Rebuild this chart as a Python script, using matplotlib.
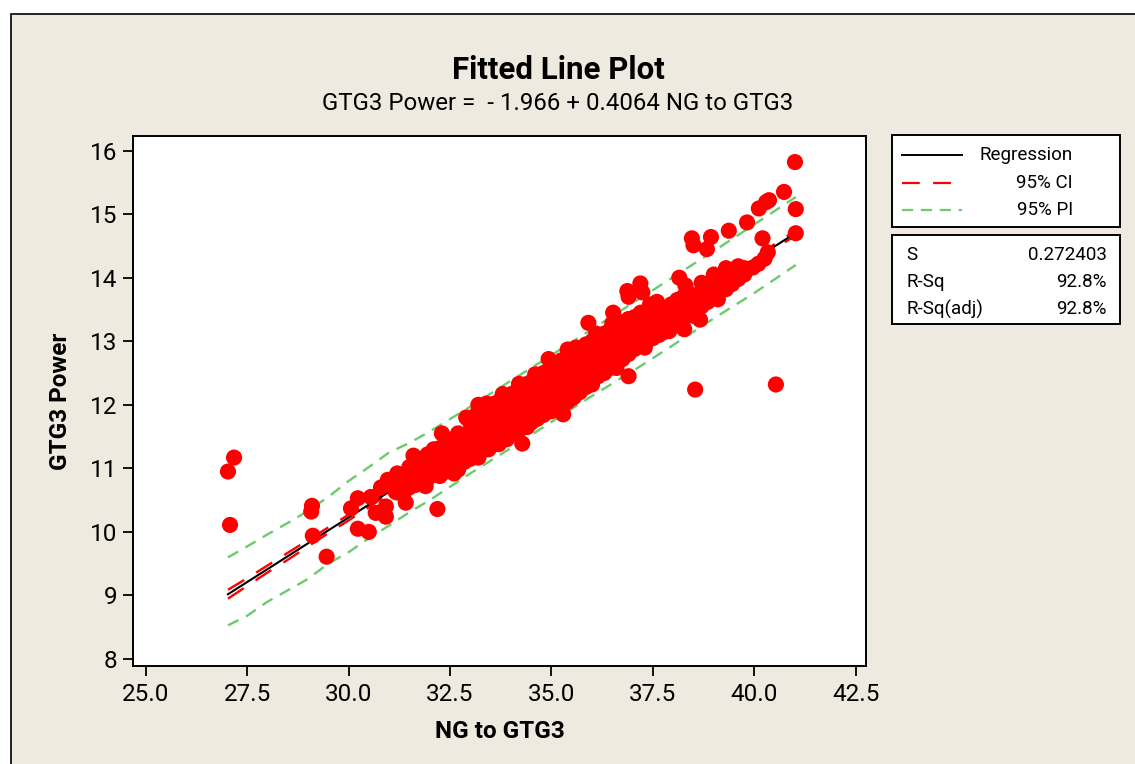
import matplotlib
matplotlib.use("Agg")
import matplotlib.pyplot as plt
from matplotlib.patches import Rectangle
from matplotlib.lines import Line2D
import numpy as np

plt.rcParams['font.family'] = ['Roboto', 'DejaVu Sans']

# Scatter data: NG to GTG3 (x) vs GTG3 Power (y)
outlier_x = [27.03, 27.18, 27.08, 29.10, 29.08, 29.12, 29.46, 30.06, 30.23, 30.23,
             30.50, 30.55, 30.67, 30.80, 30.92, 30.92, 30.97, 31.16, 31.41, 32.19,
             33.20, 34.28, 34.93, 35.29, 35.40, 35.91, 36.52, 36.87, 36.90, 36.90,
             37.19, 37.24, 37.43, 38.15, 38.27, 38.46, 38.50, 38.54, 38.66, 38.83,
             38.93, 39.37, 39.82, 40.11, 40.20, 40.29, 40.33, 40.36, 40.53, 40.73,
             41.00, 41.02, 41.02, 39.96, 40.10, 40.25]
outlier_y = [10.95, 11.17, 10.11, 10.41, 10.32, 9.94, 9.61, 10.37, 10.05, 10.53,
             10.00, 10.55, 10.30, 10.70, 10.24, 10.40, 10.82, 10.63, 10.46, 10.36,
             12.00, 11.39, 12.72, 11.85, 12.87, 13.29, 13.45, 13.79, 12.45, 13.70,
             13.91, 13.77, 13.58, 14.00, 13.19, 14.62, 14.51, 12.24, 13.34, 14.45,
             14.64, 14.74, 14.87, 15.09, 14.62, 15.19, 14.40, 15.22, 12.32, 15.35,
             15.82, 15.08, 14.70, 14.16, 14.22, 14.30]

cluster_x = (
    [31.20] * 3 + [31.35] * 3 + [31.50] * 3 + [31.65] * 3 + [31.80] * 3 +
    [31.95] * 4 + [32.10] * 4 + [32.25] * 4 + [32.40] * 4 + [32.55] * 4 +
    [32.70] * 5 + [32.85] * 4 + [33.00] * 5 + [33.15] * 5 + [33.30] * 5 +
    [33.45] * 5 + [33.60] * 5 + [33.75] * 5 + [33.90] * 5 + [34.05] * 5 +
    [34.20] * 5 + [34.35] * 5 + [34.50] * 5 + [34.65] * 5 + [34.80] * 5 +
    [34.95] * 5 + [35.10] * 5 + [35.25] * 5 + [35.40] * 5 + [35.55] * 5 +
    [35.70] * 5 + [35.85] * 5 + [36.00] * 5 + [36.15] * 5 + [36.30] * 5 +
    [36.45] * 5 + [36.60] * 5 + [36.75] * 5 + [36.90] * 5 + [37.05] * 5 +
    [37.20] * 5 + [37.35] * 4 + [37.50] * 4 + [37.65] * 4 + [37.80] * 4 +
    [37.95] * 4 + [38.10] * 4 + [38.25] * 4 + [38.40] * 4 + [38.55] * 3 +
    [38.70] * 4 + [38.85] * 3 + [39.00] * 4 + [39.15] * 3 + [39.30] * 4 +
    [39.45] * 3 + [39.60] * 3 + [39.75] * 2)
cluster_y = [
    10.62, 10.80, 10.92,  10.60, 10.74, 10.88,  10.70, 10.85, 11.02,
    10.74, 10.90, 11.10,  10.80, 10.98, 11.15,
    10.84, 11.00, 11.12, 11.22,  10.90, 11.06, 11.20, 11.30,
    10.88, 11.02, 11.15, 11.32,  10.95, 11.10, 11.22, 11.38,
    11.00, 11.18, 11.30, 11.45,
    10.98, 11.14, 11.30, 11.40, 11.55,  11.10, 11.25, 11.38, 11.52,
    11.15, 11.30, 11.45, 11.58, 11.72,  11.22, 11.40, 11.52, 11.66, 11.85,
    11.28, 11.45, 11.58, 11.72, 11.90,
    11.30, 11.50, 11.62, 11.78, 11.95,  11.38, 11.55, 11.70, 11.85, 12.02,
    11.42, 11.60, 11.76, 11.90, 12.08,  11.46, 11.65, 11.80, 11.95, 12.12,
    11.55, 11.72, 11.88, 12.02, 12.18,
    11.60, 11.78, 11.94, 12.10, 12.25,  11.65, 11.85, 12.00, 12.15, 12.32,
    11.72, 11.90, 12.05, 12.20, 12.36,  11.78, 11.95, 12.12, 12.28, 12.45,
    11.84, 12.00, 12.18, 12.34, 12.50,
    11.90, 12.08, 12.24, 12.40, 12.55,  11.95, 12.12, 12.30, 12.45, 12.62,
    11.96, 12.18, 12.36, 12.52, 12.70,  12.05, 12.25, 12.42, 12.58, 12.75,
    12.12, 12.30, 12.48, 12.64, 12.80,
    12.20, 12.36, 12.54, 12.70, 12.88,  12.28, 12.45, 12.60, 12.76, 12.95,
    12.38, 12.52, 12.66, 12.82, 13.00,  12.45, 12.58, 12.72, 12.88, 13.05,
    12.50, 12.65, 12.80, 12.95, 13.12,
    12.58, 12.72, 12.85, 13.00, 13.18,  12.65, 12.80, 12.92, 13.08, 13.25,
    12.72, 12.86, 12.98, 13.12, 13.30,  12.80, 12.92, 13.04, 13.18, 13.35,
    12.88, 12.98, 13.10, 13.22, 13.38,
    12.95, 13.05, 13.16, 13.28, 13.45,  13.00, 13.12, 13.22, 13.35,
    13.05, 13.18, 13.28, 13.40,  13.10, 13.22, 13.34, 13.45,
    13.15, 13.28, 13.40, 13.52,
    13.22, 13.35, 13.46, 13.58,  13.28, 13.40, 13.52, 13.65,
    13.35, 13.46, 13.58, 13.70,  13.42, 13.54, 13.65, 13.75,
    13.48, 13.60, 13.70,
    13.55, 13.66, 13.78, 13.92,  13.62, 13.74, 13.84,
    13.70, 13.80, 13.90, 14.05,  13.78, 13.88, 13.98,
    13.82, 13.95, 14.05, 14.15,
    13.90, 14.02, 14.12,  13.98, 14.08, 14.18,  14.05, 14.15]

# points along the upper and lower rim of the dense cloud
edge_x = [32.30, 32.90, 33.40, 33.80, 34.20, 34.60, 35.00, 35.60, 36.10, 36.50,
          37.60, 38.30, 32.60, 33.20, 33.70, 34.40, 35.00, 35.50, 36.00, 36.60,
          37.30, 37.90, 38.50, 39.10, 31.60, 31.90]
edge_y = [11.55, 11.80, 12.02, 12.17, 12.33, 12.48, 12.66, 12.90, 13.12, 13.28,
          13.62, 13.88, 10.92, 11.17, 11.38, 11.65, 11.90, 12.10, 12.32, 12.58,
          12.90, 13.16, 13.40, 13.66, 11.20, 10.72]

# Fitted line, confidence and prediction bands
band_x = [27.03, 27.5, 28.0, 28.5, 29.0, 29.5, 30.0, 30.5, 31.0, 31.5, 32.0,
          33.0, 34.0, 35.0, 36.0, 37.0, 38.0, 39.0, 40.0, 41.02]
fit_y = [9.019, 9.210, 9.413, 9.616, 9.820, 10.023, 10.226, 10.429, 10.632, 10.836,
         11.039, 11.445, 11.852, 12.258, 12.664, 13.071, 13.477, 13.884, 14.290, 14.705]
ci_hi = [9.09, 9.27, 9.47, 9.67, 9.87, 10.07, 10.27, 10.47, 10.66, 10.86,
         11.06, 11.46, 11.865, 12.272, 12.68, 13.09, 13.50, 13.91, 14.32, 14.745]
ci_lo = [8.95, 9.15, 9.36, 9.56, 9.77, 9.98, 10.18, 10.39, 10.60, 10.81,
         11.02, 11.43, 11.839, 12.244, 12.65, 13.05, 13.45, 13.86, 14.26, 14.665]
pi_hi = [9.60, 9.77, 9.96, 10.14, 10.33, 10.55, 10.80, 11.02, 11.25, 11.40,
         11.58, 11.97, 12.38, 12.78, 13.19, 13.60, 14.01, 14.42, 14.84, 15.27]
pi_lo = [8.53, 8.68, 8.90, 9.08, 9.26, 9.50, 9.68, 9.90, 10.10, 10.31,
         10.50, 10.92, 11.32, 11.73, 12.14, 12.53, 12.94, 13.36, 13.76, 14.20]

xticks = [25.0, 27.5, 30.0, 32.5, 35.0, 37.5, 40.0, 42.5]
yticks = [8, 9, 10, 11, 12, 13, 14, 15, 16]

W, H = 1135, 764
fig = plt.figure(figsize=(W / 100, H / 100), dpi=100, facecolor='white')

# beige panel with border (top / left edges visible)
fig.patches.append(Rectangle((10.5 / W, -0.05), 1.2, 1.05 - 13.5 / H,
                             transform=fig.transFigure, facecolor='#EEEAE0',
                             edgecolor='black', lw=1.2, zorder=-5))

ax = fig.add_axes([133 / W, 1 - 666 / H, (866 - 133) / W, (666 - 136) / H])
ax.set_facecolor('white')

green = '#6CCB6C'
ax.plot(band_x, pi_hi, color=green, lw=1.7, dashes=(5, 3.5), zorder=2)
ax.plot(band_x, pi_lo, color=green, lw=1.7, dashes=(5, 3.5), zorder=2)
ax.plot(band_x, ci_hi, color='#FF0000', lw=1.7, dashes=(8, 6), zorder=2)
ax.plot(band_x, ci_lo, color='#FF0000', lw=1.7, dashes=(8, 6), zorder=2)
ax.plot(band_x, fit_y, color='black', lw=1.5, zorder=3)

msize = 135
ax.scatter(cluster_x, cluster_y, s=msize, color='#FF0000', edgecolors='none', zorder=4)
ax.scatter(edge_x, edge_y, s=msize, color='#FF0000', edgecolors='none', zorder=4)
ax.scatter(outlier_x, outlier_y, s=msize, color='#FF0000', edgecolors='none', zorder=4)

ax.set_xlim(24.69, 42.75)
ax.set_ylim(7.89, 16.23)
ax.set_xticks(xticks)
ax.set_xticklabels([f'{v:.1f}' for v in xticks])
ax.set_yticks(yticks)
ax.tick_params(direction='out', length=7, width=1.3, labelsize=17.5, pad=4)
ax.tick_params(axis='x', pad=5)
for sp in ax.spines.values():
    sp.set_linewidth(1.4)

ax.set_xlabel('NG to GTG3', fontsize=17.5, fontweight='bold', labelpad=10)
ax.set_ylabel('GTG3 Power', fontsize=17.5, fontweight='bold', labelpad=13)

fig.text(558 / W, 1 - 70 / H, 'Fitted Line Plot', ha='center', va='center',
         fontsize=22.5, fontweight='bold')
fig.text(558 / W, 1 - 103 / H, 'GTG3 Power =  - 1.966 + 0.4064 NG to GTG3',
         ha='center', va='center', fontsize=17.3)

# legend box
fig.patches.append(Rectangle((892 / W, 1 - 227 / H), 228 / W, 92 / H,
                             transform=fig.transFigure, facecolor='white',
                             edgecolor='black', lw=1.4, zorder=1))
rows = [(155, 'Regression', dict(color='black', lw=1.4)),
        (183, '95% CI', dict(color='#FF0000', lw=1.6, dashes=(8, 6))),
        (210, '95% PI', dict(color=green, lw=1.6, dashes=(5, 3.5)))]
for ypx, label, style in rows:
    fig.lines.append(Line2D([902 / W, 962 / W], [1 - ypx / H, 1 - ypx / H],
                            transform=fig.transFigure, zorder=2, **style))
    fig.text(1073 / W, 1 - ypx / H, label, ha='right', va='center', fontsize=13.5)

# summary box
fig.patches.append(Rectangle((892 / W, 1 - 324 / H), 228 / W, 89 / H,
                             transform=fig.transFigure, facecolor='white',
                             edgecolor='black', lw=1.4, zorder=1))
stats = [(255, 'S', '0.272403'), (282, 'R-Sq', '92.8%'), (309, 'R-Sq(adj)', '92.8%')]
for ypx, name, val in stats:
    fig.text(906 / W, 1 - ypx / H, name, ha='left', va='center', fontsize=13.5)
    fig.text(1107 / W, 1 - ypx / H, val, ha='right', va='center', fontsize=13.5)

fig.savefig('out.png', dpi=100, facecolor=fig.get_facecolor())
